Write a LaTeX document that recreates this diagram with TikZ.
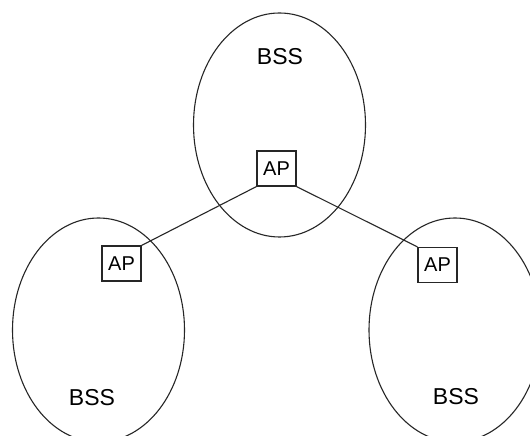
\documentclass[tikz,border=0pt]{standalone}
\usepackage{fontspec}
\setmainfont{Liberation Sans}
\usetikzlibrary{shapes.geometric}
\begin{document}
\begin{tikzpicture}[x=1pt,y=1pt,
  cell/.style={draw=black!85,line width=1.1pt,ellipse,minimum width=172pt,minimum height=224pt,inner sep=0pt},
  apbox/.style={draw=black!85,line width=1.1pt,rectangle,minimum width=39pt,minimum height=35pt,inner sep=0pt,font=\fontsize{20}{22}\selectfont},
  lbl/.style={inner sep=0pt,font=\fontsize{23}{25}\selectfont},
  link/.style={draw=black!85,line width=1.1pt}]
\useasboundingbox (0,0) rectangle (530,436);
\clip (0,0) rectangle (530,436);
\fill[white] (0,0) rectangle (530,436);
\node[cell] (eT) at (279.5,311) {};
\node[cell] (eL) at (98.5,106) {};
\node[cell] (eR) at (455,106) {};
\node[lbl] (bT) at (280,379) {BSS};
\node[lbl] (bL) at (92,38) {BSS};
\node[lbl] (bR) at (456,39) {BSS};
\node[apbox,fill=white] (apT) at (276.5,267.5) {AP};
\node[apbox,fill=white] (apL) at (121.5,172.5) {AP};
\node[apbox,fill=white] (apR) at (437.5,171) {AP};
\draw[link] (apT.south west) -- (apL.north east);
\draw[link] (apT.south east) -- (apR.north west);
\end{tikzpicture}
\end{document}
